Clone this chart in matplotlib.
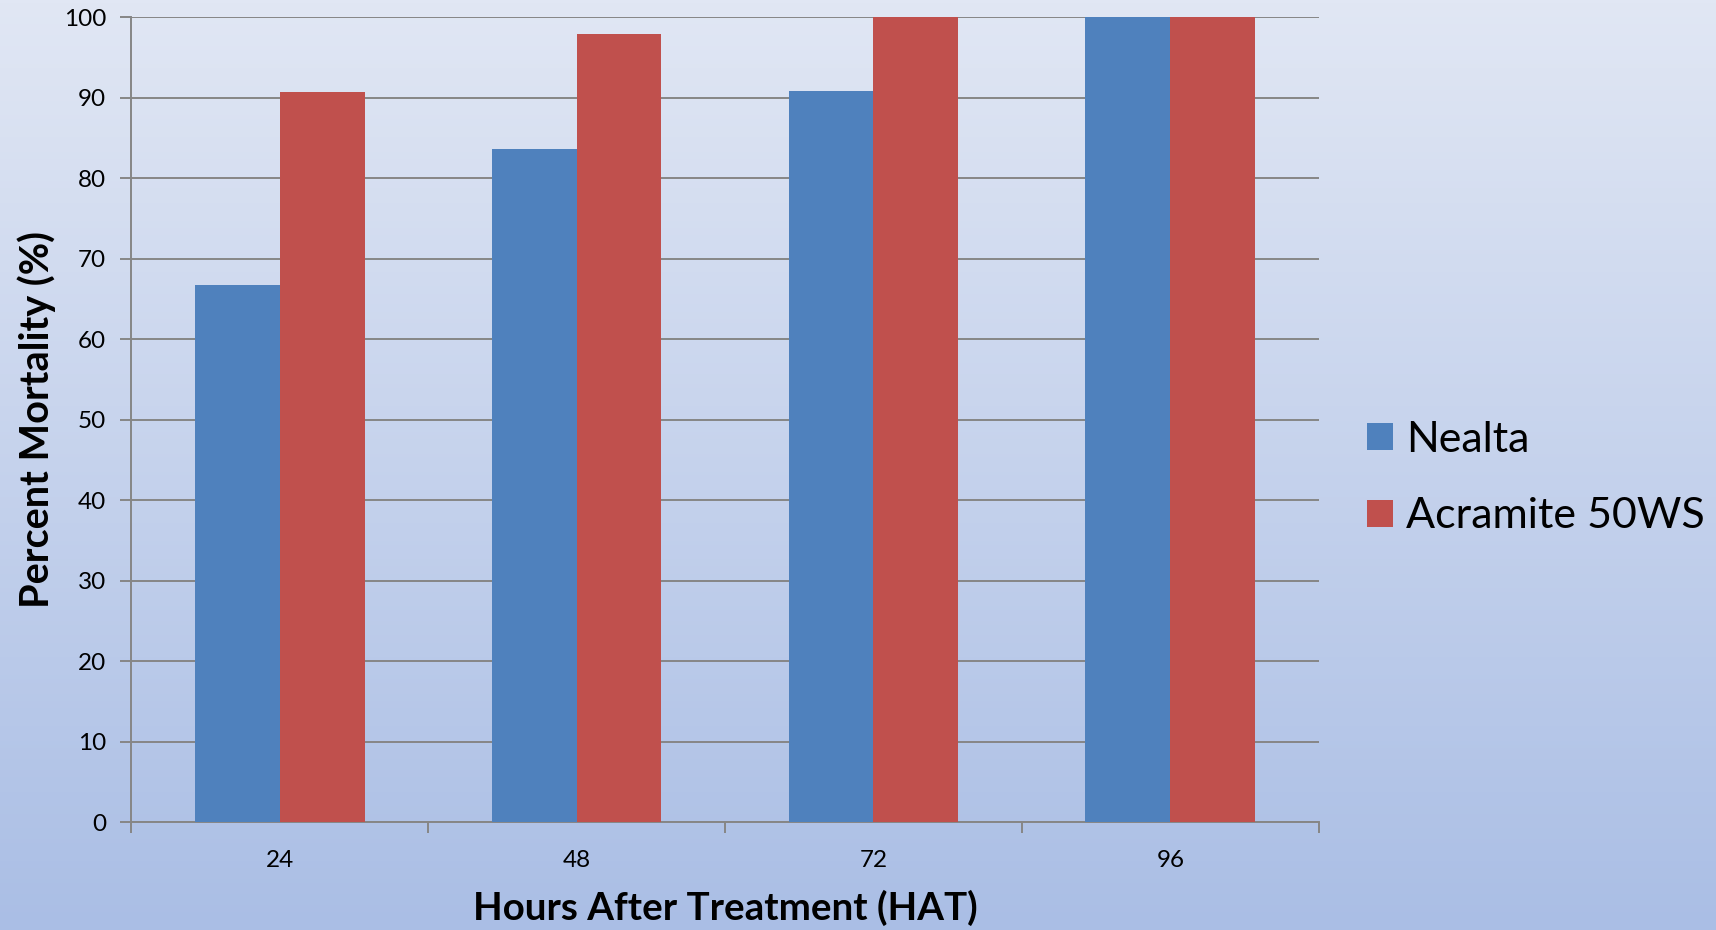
import numpy as np
import matplotlib
matplotlib.use('Agg')
import matplotlib.pyplot as plt
from matplotlib.colors import LinearSegmentedColormap

# data
hours = ['24', '48', '72', '96']
nealta = [66.7, 83.7, 90.9, 100.0]
acramite = [90.7, 98.0, 100.0, 100.0]
series_names = ['Nealta', 'Acramite 50WS']
yticks = [0, 10, 20, 30, 40, 50, 60, 70, 80, 90, 100]

BLUE = '#4F81BD'
RED = '#C0504D'
GRID = '#868686'

plt.rcParams['font.family'] = ['Lato', 'DejaVu Sans']

fig = plt.figure(figsize=(17.16, 9.30), dpi=100)

# vertical gradient background
bg = fig.add_axes([0, 0, 1, 1], zorder=-10)
cmap = LinearSegmentedColormap.from_list('bg', ['#E1E7F4', '#AABEE5'])
bg.imshow(np.linspace(0, 1, 256).reshape(-1, 1), aspect='auto', cmap=cmap,
          extent=[0, 1, 0, 1])
bg.axis('off')

ax = fig.add_axes([0.0765, 0.1161, 0.6920, 0.8651])
ax.patch.set_alpha(0)

x = np.arange(len(hours))
w = 1 / 3.5
ax.bar(x - w / 2, nealta, w, color=BLUE, label=series_names[0], zorder=3)
ax.bar(x + w / 2, acramite, w, color=RED, label=series_names[1], zorder=3)

ax.set_xlim(-0.5, len(hours) - 0.5)
ax.set_ylim(0, 100)
ax.set_yticks(yticks)
ax.set_yticklabels([str(v) for v in yticks])
ax.yaxis.grid(True, color=GRID, linewidth=1.4, zorder=0)

# category ticks at group boundaries, labels at centers
ax.set_xticks(np.arange(-0.5, len(hours), 1.0))
ax.set_xticklabels([])
ax.set_xticks(x, minor=True)
ax.set_xticklabels(hours, minor=True)
ax.tick_params(axis='x', which='major', length=8, width=1.4, color=GRID)
ax.tick_params(axis='x', which='minor', length=0, pad=20, labelsize=17.5)
ax.tick_params(axis='y', length=8, width=1.4, color=GRID, pad=10, labelsize=17.5)

for s in ['top', 'right']:
    ax.spines[s].set_visible(False)
for s in ['left', 'bottom']:
    ax.spines[s].set_color(GRID)
    ax.spines[s].set_linewidth(1.4)

fig.text(0.0215, 0.5487, 'Percent Mortality (%)', rotation=90, ha='center',
         va='center', fontsize=28.5, fontweight='bold')
fig.text(0.4225, 0.024, 'Hours After Treatment (HAT)', ha='center',
         va='center', fontsize=27.7, fontweight='bold')

ax.legend(loc='center left', bbox_to_anchor=(0.7966, 0.486),
          bbox_transform=fig.transFigure, frameon=False, fontsize=31,
          handlelength=0.6, handleheight=0.6, handletextpad=0.3,
          labelspacing=0.9, borderpad=0, borderaxespad=0)

fig.savefig('out.png', dpi=100)
